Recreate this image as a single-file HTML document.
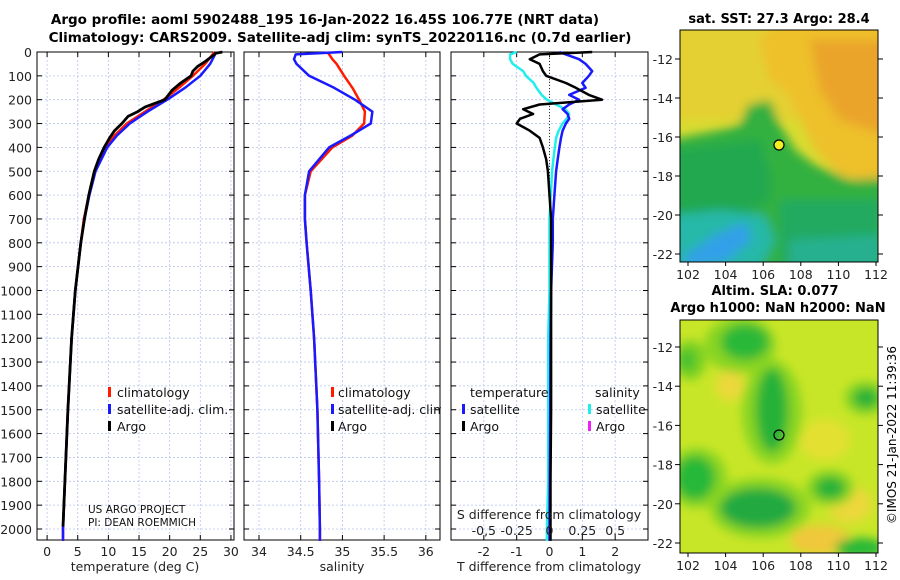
<!DOCTYPE html>
<html><head><meta charset="utf-8"><style>
body{margin:0;background:#fff;}
svg{display:block;font-family:"DejaVu Sans","Liberation Sans",sans-serif;}
</style></head><body>
<svg id="fig" width="900" height="580" viewBox="0 0 900 580">
<defs>
<filter id="blur1" x="-20%" y="-20%" width="140%" height="140%"><feGaussianBlur stdDeviation="5"/></filter>
<filter id="blur2" x="-20%" y="-20%" width="140%" height="140%"><feGaussianBlur stdDeviation="5"/></filter>
<clipPath id="clipm1"><rect x="680" y="30" width="198" height="232"/></clipPath>
<clipPath id="clipm2"><rect x="680" y="320" width="198" height="233"/></clipPath>
</defs>
<text x="325" y="24" text-anchor="middle" font-weight="bold" font-size="13.5">Argo profile: aoml 5902488_195 16-Jan-2022 16.45S 106.77E (NRT data)</text>
<text x="340" y="42" text-anchor="middle" font-weight="bold" font-size="13.5">Climatology: CARS2009. Satellite-adj clim: synTS_20220116.nc (0.7d earlier)</text>
<g id="g"></g>

<!-- Map 1 SST -->
<g>
<text x="779" y="23" text-anchor="middle" font-weight="bold" font-size="13">sat. SST: 27.3 Argo: 28.4</text>
<g clip-path="url(#clipm1)">
<rect x="680" y="30" width="198" height="232" fill="#d8dc30"/>
<g filter="url(#blur1)">
<path d="M670 20 L900 20 L900 120 L670 120 Z" fill="#e4d030"/>
<path d="M780 20 L900 20 L900 190 L840 175 L815 150 L800 120 L790 95 L770 80 L760 40 Z" fill="#eec02c"/>
<path d="M810 40 L900 40 L900 140 L840 120 L820 90 Z" fill="#eaa42a"/>
<path d="M670 140 L720 130 L740 125 L748 105 L770 100 L780 125 L795 150 L815 165 L850 180 L890 178 L890 280 L670 280 Z" fill="#30b040"/>
<path d="M670 150 L720 145 L760 140 L770 175 L770 200 L740 215 L700 225 L670 225 Z" fill="#22a850"/>
<path d="M780 200 L880 200 L880 270 L780 270 Z" fill="#22aa60"/>
<path d="M672 215 L720 210 L765 215 L775 240 L760 270 L672 270 Z" fill="#28b8a8"/>
<path d="M685 255 L715 235 L745 222 L752 240 L725 262 L685 268 Z" fill="#30a0e8"/>
<path d="M790 240 L880 235 L880 270 L790 270 Z" fill="#26b090"/>
</g>
</g>
<rect x="680" y="30" width="198" height="232" fill="none" stroke="#000" stroke-width="1"/>
<circle cx="779" cy="145" r="5" fill="#f0f020" stroke="#000" stroke-width="1.2"/>
<g id="m1ticks"></g>
</g>

<!-- Map 2 SLA -->
<g>
<text x="775" y="295" text-anchor="middle" font-weight="bold" font-size="13">Altim. SLA: 0.077</text>
<text x="778" y="312" text-anchor="middle" font-weight="bold" font-size="13">Argo h1000: NaN h2000: NaN</text>
<g clip-path="url(#clipm2)">
<rect x="680" y="320" width="198" height="233" fill="#c8e628"/>
<g filter="url(#blur2)">
<ellipse cx="730" cy="385" rx="14" ry="16" fill="#ecd83a"/>
<ellipse cx="850" cy="505" rx="22" ry="18" fill="#ecd83a"/>
<ellipse cx="820" cy="540" rx="30" ry="15" fill="#f0c83a"/>
<ellipse cx="825" cy="440" rx="25" ry="20" fill="#e4e030"/>
<ellipse cx="740" cy="345" rx="36" ry="28" fill="#88d420"/>
<ellipse cx="745" cy="342" rx="24" ry="18" fill="#2ab838"/>
<ellipse cx="690" cy="360" rx="16" ry="20" fill="#7ad020"/>
<ellipse cx="687" cy="360" rx="8" ry="10" fill="#40c030"/>
<ellipse cx="772" cy="412" rx="30" ry="52" fill="#88d420"/>
<ellipse cx="772" cy="410" rx="16" ry="42" fill="#26b238"/>
<ellipse cx="697" cy="478" rx="30" ry="30" fill="#88d420"/>
<ellipse cx="695" cy="478" rx="20" ry="22" fill="#28b838"/>
<ellipse cx="760" cy="508" rx="50" ry="30" fill="#88d420"/>
<ellipse cx="758" cy="508" rx="38" ry="20" fill="#22aa40"/>
<ellipse cx="830" cy="488" rx="24" ry="18" fill="#88d420"/>
<ellipse cx="830" cy="488" rx="15" ry="11" fill="#26b238"/>
<ellipse cx="866" cy="398" rx="22" ry="17" fill="#88d420"/>
<ellipse cx="866" cy="398" rx="13" ry="10" fill="#26b238"/>
<ellipse cx="860" cy="548" rx="25" ry="10" fill="#28b838"/>
</g>
</g>
<rect x="680" y="320" width="198" height="233" fill="none" stroke="#000" stroke-width="1"/>
<circle cx="779" cy="435" r="5" fill="none" stroke="#000" stroke-width="1.2"/>
<g id="m2ticks"></g>
</g>
<text transform="translate(896,435) rotate(-90)" text-anchor="middle" font-size="12">©IMOS 21-Jan-2022 11:39:36</text>
</svg>
<script>
// ---- data ----
const depthTicks = [0,100,200,300,400,500,600,700,800,900,1000,1100,1200,1300,1400,1500,1600,1700,1800,1900,2000];
const tDepth = [0,10,30,50,100,150,200,250,300,350,400,500,600,700,800,1000,1200,1500,1800,2000,2050];
const tempClim = [27.3,27.0,26.4,25.8,23.8,21.5,19.0,16.0,13.0,11.0,9.5,7.7,6.8,6.0,5.5,4.6,4.0,3.4,2.9,2.6,2.6];
const tempSat  = [27.6,27.4,27.0,26.6,25.0,22.5,19.6,16.4,13.5,11.4,9.8,7.9,6.9,6.1,5.5,4.6,4.0,3.4,2.9,2.6,2.6];
const tDepthArgo = [0,5,10,20,40,60,80,100,130,160,200,230,250,270,300,330,360,400,450,500,600,700,800,1000,1200,1500,1800,1990];
const tempArgo = [28.6,27.5,27.3,26.8,25.8,24.6,23.8,23.5,21.8,20.4,19.2,16.0,14.8,13.2,12.2,11.0,10.2,9.3,8.4,7.7,6.8,6.1,5.5,4.6,4.0,3.4,2.9,2.6];
const salClim = [34.82,34.84,34.88,34.93,35.02,35.12,35.20,35.27,35.26,35.12,34.88,34.62,34.55,34.55,34.57,34.62,34.66,34.70,34.72,34.73,34.73];
const salSat  = [35.0,34.44,34.42,34.45,34.60,34.90,35.15,35.36,35.34,35.10,34.84,34.60,34.55,34.55,34.57,34.62,34.66,34.70,34.72,34.73,34.73];
const dDepth = [0,10,30,50,80,100,130,150,180,200,220,240,260,280,300,330,360,400,450,500,600,700,800,1000,1200,1500,1800,2000,2050];
const tDiffSat  = [0.3,0.5,0.9,1.1,1.3,1.2,1.0,1.1,0.6,0.9,0.6,0.4,0.55,0.6,0.5,0.4,0.35,0.3,0.25,0.2,0.15,0.1,0.1,0.05,0.03,0.02,0.01,0.0,0.0];
const tDiffArgo = [1.3,-0.3,-0.6,-0.3,-0.2,-0.1,0.5,0.8,1.2,1.6,-0.3,-0.8,-0.5,-0.9,-1.0,-0.6,-0.3,-0.2,-0.1,-0.05,0.0,0.05,0.05,0.05,0.05,0.05,0.03,0.03,0.03];
const sDiffSat  = [-0.25,-0.3,-0.3,-0.28,-0.2,-0.18,-0.12,-0.1,-0.06,-0.02,0.05,0.12,0.15,0.13,0.1,0.07,0.05,0.04,0.03,0.02,0.01,0.0,0.0,0.0,-0.01,-0.01,-0.01,-0.02,-0.02];
const tempTicks = [0,5,10,15,20,25,30];
const salTicks = [34,34.5,35,35.5,36];
const salTickLabels = ["34","34.5","35","35.5","36"];
const diffTicks = [-2,-1,0,1,2];
const sTicks = [-0.5,-0.25,0,0.25,0.5];
const sTickLabels = ["-0,5","-0.25","0","0.25","0.5"];
const lonTicks = [102,104,106,108,110,112];
const latTicks = [-12,-14,-16,-18,-20,-22];

// ---- helpers ----
const NS="http://www.w3.org/2000/svg";
const root=document.getElementById('g');
function mk(tag,attrs,parent){const e=document.createElementNS(NS,tag);for(const k in attrs)e.setAttribute(k,attrs[k]);(parent||root).appendChild(e);return e;}
const Y0=52, YK=0.2385;
const yD=d=>Y0+d*YK;
const panels=[
 {x0:37,x1:234,lo:-1.65,hi:30.5},
 {x0:244,x1:440,lo:33.82,hi:36.17},
 {x0:451,x1:648,lo:-3,hi:3}
];
function sx(p,v){return p.x0+(v-p.lo)/(p.hi-p.lo)*(p.x1-p.x0);}
function drawPanel(p,ticks,labels,name){
  const g=mk('g',{});
  
  
  ticks.forEach((t,i)=>{
    const x=sx(p,t);
    const l=mk('line',{x1:x,x2:x,y1:Y0,y2:540,stroke:'#b8c4ec','stroke-dasharray':'2,2','stroke-width':0.8},g);
    
    
    mk('line',{x1:x,x2:x,y1:540,y2:535,stroke:'#000'},g);
    mk('line',{x1:x,x2:x,y1:Y0,y2:Y0+5,stroke:'#000'},g);
    const tx=mk('text',{x:x,y:556,'text-anchor':'middle','font-size':12.5,fill:'#222'},g);
    tx.textContent=labels[i];
    
    
  });
  depthTicks.forEach(d=>{
    const y=yD(d);
    const l=mk('line',{x1:p.x0,x2:p.x1,y1:y,y2:y,stroke:'#b8c4ec','stroke-dasharray':'2,2','stroke-width':0.8},g);
    
    
    mk('line',{x1:p.x0,x2:p.x0+5,y1:y,y2:y,stroke:'#000'},g);
    mk('line',{x1:p.x1,x2:p.x1-5,y1:y,y2:y,stroke:'#000'},g);
  });
  const r=mk('rect',{x:p.x0,y:Y0,width:p.x1-p.x0,height:540-Y0,fill:'none',stroke:'#000','stroke-width':1},g);
  
  
  return g;
}
function line(p,xs,ds,color,w,name,scale){
  const pts=xs.map((v,i)=>sx(p,scale?v*scale:v).toFixed(1)+','+yD(ds[i]).toFixed(1)).join(' ');
  const e=mk('polyline',{points:pts,fill:'none',stroke:color,'stroke-width':w,'stroke-linejoin':'round'});
  
  
}
function text(x,y,s,size,name,anchor,color){
  const t=mk('text',{x:x,y:y,'font-size':size,'text-anchor':anchor||'start',fill:color||'#111'});
  t.textContent=s;
  
  
}
function legBar(x,y,color,name){
  const r=mk('rect',{x:x,y:y-10,width:3,height:10,fill:color});
  
  
}

depthTicks.forEach(d=>{text(32,yD(d)+5,String(d),12.5,'y-tick-label','end','#222');});

// Panel 1 temperature
const p1=panels[0];
drawPanel(p1,tempTicks,tempTicks.map(String),'temperature-panel');
line(p1,tempClim,tDepth,'#ff1a00',2.5,'temp-climatology-line');
line(p1,tempSat,tDepth,'#1a1aff',2.5,'temp-satellite-adj-line');
line(p1,tempArgo,tDepthArgo,'#000',2.8,'temp-argo-line');
text(135,571,'temperature (deg C)',12.5,'temperature-axis-title','middle','#222');
legBar(108,397,'#ff1a00','legend-climatology-swatch');
text(117,397,'climatology',12.5,'legend-climatology');
legBar(108,414,'#1a1aff','legend-satellite-swatch');
text(117,414,'satellite-adj. clim.',12.5,'legend-satellite-adj');
legBar(108,431,'#000','legend-argo-swatch');
text(117,431,'Argo',12.5,'legend-argo');
text(88,513,'US ARGO PROJECT',10.5,'project-label');
text(88,526,'PI: DEAN ROEMMICH',10.5,'pi-label');

// Panel 2 salinity
const p2=panels[1];
drawPanel(p2,salTicks,salTickLabels,'salinity-panel');
line(p2,salClim,tDepth,'#ff1a00',2.5,'sal-climatology-line');
line(p2,salSat,tDepth,'#1a1aff',2.5,'sal-satellite-adj-line');
text(342,571,'salinity',12.5,'salinity-axis-title','middle','#222');
legBar(331,397,'#ff1a00','legend2-climatology-swatch');
text(338,397,'climatology',12.5,'legend2-climatology');
legBar(331,414,'#1a1aff','legend2-satellite-swatch');
text(338,414,'satellite-adj. clim.',12.5,'legend2-satellite-adj');
legBar(331,431,'#000','legend2-argo-swatch');
text(338,431,'Argo',12.5,'legend2-argo');
mk('rect',{x:441,y:395,width:9,height:25,fill:'#fff'});

// Panel 3 differences
const p3=panels[2];
drawPanel(p3,diffTicks,diffTicks.map(String),'difference-panel');
const z=mk('line',{x1:sx(p3,0),x2:sx(p3,0),y1:Y0,y2:540,stroke:'#333','stroke-dasharray':'1,2','stroke-width':1});


line(p3,sDiffSat,dDepth,'#22eeee',2.5,'sal-diff-satellite-line',4);
line(p3,tDiffSat,dDepth,'#1a1aff',2.5,'temp-diff-satellite-line');
line(p3,tDiffArgo,dDepth,'#000',2.5,'temp-diff-argo-line');
text(549,571,'T difference from climatology',12.5,'t-diff-axis-title','middle','#222');
text(549,519,'S difference from climatology',12.5,'s-diff-axis-title','middle','#222');
sTicks.forEach((s,i)=>text(sx(p3,s*4),535,sTickLabels[i],12.5,'s-tick-label','middle','#222'));
text(470,397,'temperature',12.5,'legend3-temperature-heading');
legBar(462,414,'#1a1aff','legend3-t-satellite-swatch');
text(470,414,'satellite',12.5,'legend3-t-satellite');
legBar(462,431,'#000','legend3-t-argo-swatch');
text(470,431,'Argo',12.5,'legend3-t-argo');
text(595,397,'salinity',12.5,'legend3-salinity-heading');
legBar(588,414,'#22eeee','legend3-s-satellite-swatch');
text(596,414,'satellite',12.5,'legend3-s-satellite');
legBar(588,431,'#ee22ee','legend3-s-argo-swatch');
text(596,431,'Argo',12.5,'legend3-s-argo');

function mapTicks(id,top,bot,lat12,latK){
  const g=document.getElementById(id);
  lonTicks.forEach(l=>{
    const x=688+(l-102)*18.8;
    mk('line',{x1:x,x2:x,y1:bot,y2:bot+4,stroke:'#000'},g);
    const t=mk('text',{x:x,y:bot+17,'text-anchor':'middle','font-size':12.5,fill:'#222'},g);
    t.textContent=String(l);
    
    
  });
  latTicks.forEach(l=>{
    const y=lat12+(-12-l)*latK;
    mk('line',{x1:675,x2:680,y1:y,y2:y,stroke:'#000'},g);
    mk('line',{x1:878,x2:883,y1:y,y2:y,stroke:'#000'},g);
    const t=mk('text',{x:673,y:y+5,'text-anchor':'end','font-size':12.5,fill:'#222'},g);
    t.textContent=String(l);
    
    
  });
}
mapTicks('m1ticks',30,262,59,19.5);
mapTicks('m2ticks',320,553,347,19.6);
</script>
</body></html>
